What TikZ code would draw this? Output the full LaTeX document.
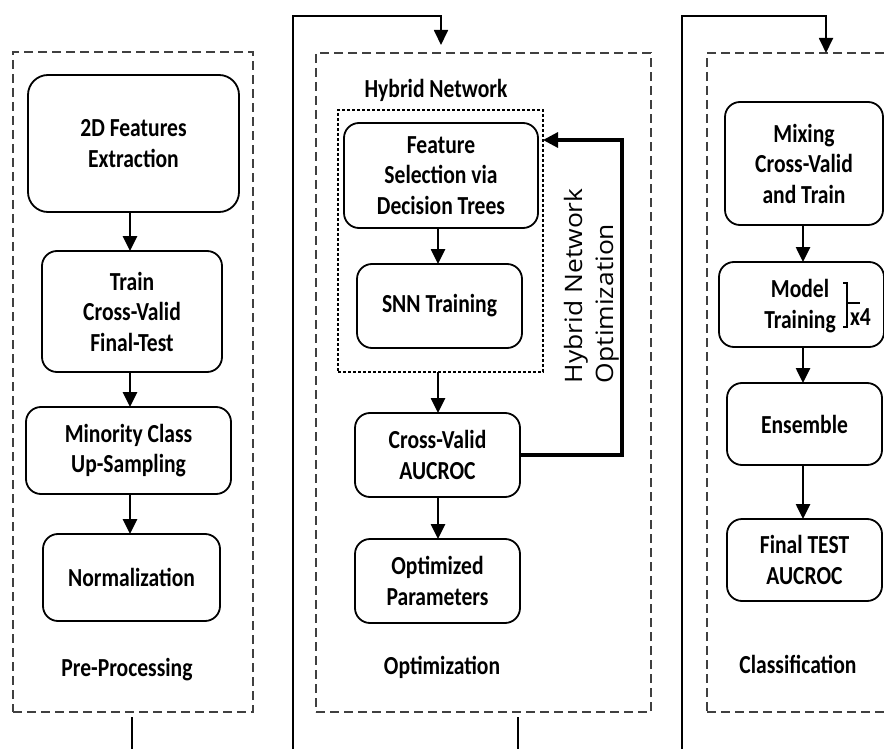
\documentclass[tikz,border=0pt]{standalone}
\usepackage{fontspec}
\usepackage{graphicx}
\newfontfamily\bxfont{Carlito}[FakeStretch=0.83]
\newfontfamily\rotfont{Open Sans}
\usetikzlibrary{arrows.meta,calc}

\begin{document}
\begin{tikzpicture}[x=1pt,y=-1pt,
  every node/.style={inner sep=0pt, outer sep=0pt},
  txt/.style={font=\bxfont\bfseries\fontsize{26}{30.5}\selectfont, align=center},
  box/.style={txt, draw, line width=1.8pt, rounded corners=15pt},
  phase/.style={draw=black!75, dash pattern=on 9pt off 5pt, line width=1.6pt, rectangle},
  hybrid/.style={draw, dash pattern=on 3pt off 2pt, line width=1.2pt, rectangle},
  tip/.style={-{Triangle[length=15pt,width=14pt]}},
  arr/.style={line width=2.6pt, tip},
  link/.style={line width=1.8pt},
  fb/.style={line width=3.2pt, -{Triangle[length=15pt,width=15pt]}},
  rot/.style={rotate=90, anchor=base west, font=\rotfont\fontsize{24}{30}\selectfont},
]
\useasboundingbox (0,0) rectangle (884,749);
\clip (0,0) rectangle (884,749);

% phase frames
\node[phase, minimum width=240pt, minimum height=660pt] (pre) at (133,382) {};
\node[phase, minimum width=335pt, minimum height=659pt] (mid) at (483.5,382.5) {};
\node[phase, minimum width=193pt, minimum height=659pt] (cls) at (803.5,382.5) {};

% phase titles
\node[txt, anchor=base] (tpre) at (127,676) {Pre-Processing};
\node[txt, anchor=base] (tmid) at (442,674) {Optimization};
\node[txt, anchor=base] (tcls) at (798,673) {Classification};

% pre-processing column
\node[box, rounded corners=20pt, minimum width=211pt, minimum height=137pt] (n1) at (133.5,143.5) {2D Features\\Extraction};
\node[box, minimum width=180pt, minimum height=121pt] (n2) at (132,311.5) {Train\\Cross-Valid\\Final-Test};
\node[box, minimum width=205pt, minimum height=87pt] (n3) at (128.5,450.5) {Minority Class\\Up-Sampling};
\node[box, minimum width=177pt, minimum height=87pt] (n4) at (131.5,577.5) {Normalization};

% optimization column
\node[txt, anchor=base] (thn) at (436,98) {Hybrid Network};
\node[hybrid, minimum width=205pt, minimum height=262pt] (hn) at (440.5,241) {};
\node[box, minimum width=194pt, minimum height=105pt] (f1) at (441,175.5) {Feature\\Selection via\\Decision Trees};
\node[box, minimum width=165pt, minimum height=84pt] (f2) at (439.5,306) {SNN Training};
\node[box, minimum width=165pt, minimum height=84pt] (f3) at (437.5,455) {Cross-Valid\\AUCROC};
\node[box, minimum width=165pt, minimum height=84pt] (f4) at (437.5,581) {Optimized\\Parameters};

% classification column
\node[box, minimum width=158pt, minimum height=123pt] (r1) at (804,163.5) {Mixing\\Cross-Valid\\and Train};
\node[box, minimum width=165pt, minimum height=85pt] (r2) at (801.5,304.5) {};
\node[txt] (mt) at (800,306) {Model\\Training};
\node[txt, anchor=base west] (x4) at (850,325) {x4};
\node[box, minimum width=155pt, minimum height=82pt] (r3) at (804.5,424) {Ensemble};
\node[box, minimum width=155pt, minimum height=82pt] (r4) at (804.5,560) {Final TEST\\AUCROC};

% repetition bracket
\draw[line width=1.4pt] (843,283) -- (847,283) -- (847,327) -- (843,327);
\draw[line width=1.4pt] (847,303) -- (860,303);

% column axes
\coordinate (lx) at (130,0);
\coordinate (mx) at (438,0);
\coordinate (rx) at (803,0);

% flow arrows
\draw[arr] (n1.south -| lx) -- (n2.north -| lx);
\draw[arr] (n2.south -| lx) -- (n3.north -| lx);
\draw[arr] (n3.south -| lx) -- (n4.north -| lx);
\draw[arr] (f1.south -| mx) -- (f2.north -| mx);
\draw[arr] (hn.south -| mx) -- (f3.north -| mx);
\draw[arr] (f3.south -| mx) -- (f4.north -| mx);
\draw[arr] (r1.south -| rx) -- (r2.north -| rx);
\draw[arr] (r2.south -| rx) -- (r3.north -| rx);
\draw[arr] (r3.south -| rx) -- (r4.north -| rx);

% optimization feedback loop
\coordinate (fbc) at (622,140);
\draw[fb] (f3.east) -| (fbc) -- (hn.east |- fbc);
\node[rot] (ho1) at (582,383) {\scalebox{1.1}[1]{Hybrid Network}};
\node[rot] (ho2) at (613,383) {\scalebox{1.1}[1]{Optimization}};

% links between phases
\coordinate (b1) at (293,749);
\coordinate (e1) at (441,45);
\draw[link, tip] (b1) |- (441,16) -- (e1);
\coordinate (b2) at (682,749);
\coordinate (e2) at (826,53);
\draw[link, tip] (b2) |- (826,16) -- (e2);

% outgoing stubs
\coordinate (s1) at (132,749);
\coordinate (s2) at (518,749);
\draw[link] ([yshift=-5pt]pre.south -| s1) -- (s1);
\draw[link] ([yshift=-5pt]mid.south -| s2) -- (s2);
\end{tikzpicture}
\end{document}
